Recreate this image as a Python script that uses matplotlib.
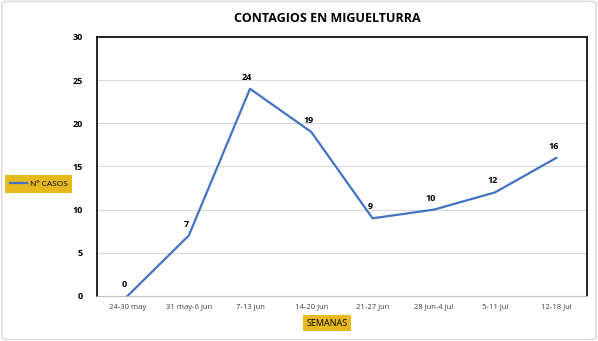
import matplotlib.pyplot as plt
from matplotlib.patches import FancyBboxPatch

# ── Data ──────────────────────────────────────────────────────────────────────
semanas = ["24-30 may", "31 may-6 jun", "7-13 jun", "14-20 jun",
           "21-27 jun", "28 jun-4 jul", "5-11 jul", "12-18 jul"]
casos = [0, 7, 24, 19, 9, 10, 12, 16]

LINE_COLOR = "#4472C4"
YELLOW = "#E6B91E"
plt.rcParams["font.family"] = ["Open Sans", "DejaVu Sans"]

# ──────────────────────────────────────────────────────────────────────────────
fig = plt.figure(figsize=(5.98, 3.41), dpi=100)
fig.patches.append(FancyBboxPatch((0.003, 0.004), 0.994, 0.992,
                                  boxstyle="round,pad=0,rounding_size=0.01",
                                  transform=fig.transFigure, fill=False,
                                  edgecolor="#D9D9D9", linewidth=1))

ax = fig.add_axes([0.162, 0.132, 0.8195, 0.7595])
x = range(len(semanas))
line, = ax.plot(x, casos, color=LINE_COLOR, linewidth=1.6, label="Nº CASOS",
                clip_on=False)

for xi, v in zip(x, casos):
    ax.annotate(str(v), (xi, v), xytext=(-2, 5), textcoords="offset points",
                ha="center", va="bottom", fontsize=6.5, fontweight="bold")

ax.set_xlim(-0.5, len(semanas) - 0.5)
ax.set_ylim(0, 30)
ax.set_yticks(range(0, 31, 5))
ax.set_xticks(list(x))
ax.set_xticklabels(semanas, fontsize=5.5, color="#404040")
ax.tick_params(axis="y", labelsize=6.5, length=0, pad=10)
for lbl in ax.get_yticklabels():
    lbl.set_fontweight("bold")
ax.tick_params(axis="x", length=0, pad=6)
ax.grid(axis="y", color="#D9D9D9", linewidth=0.8)
ax.set_axisbelow(True)
for s in ["left", "top", "right"]:
    ax.spines[s].set_color("black")
    ax.spines[s].set_linewidth(1.2)
ax.spines["bottom"].set_color("#BFBFBF")
ax.spines["bottom"].set_linewidth(0.8)

fig.text(0.547, 0.947, "CONTAGIOS EN MIGUELTURRA", ha="center", va="center",
         fontsize=9, fontweight="bold")
fig.text(0.547, 0.052, "SEMANAS", ha="center", va="center", fontsize=6.5,
         bbox=dict(facecolor=YELLOW, edgecolor="none", pad=2.5))

leg = fig.legend(handles=[line], loc="center", bbox_to_anchor=(0.065, 0.46),
                 fontsize=6, frameon=True, fancybox=False, handlelength=2.0,
                 handletextpad=0.3, borderpad=0.6, borderaxespad=0)
leg.get_frame().set_facecolor(YELLOW)
leg.get_frame().set_edgecolor("none")
leg.get_frame().set_alpha(1)

fig.savefig("out.png", dpi=100)
